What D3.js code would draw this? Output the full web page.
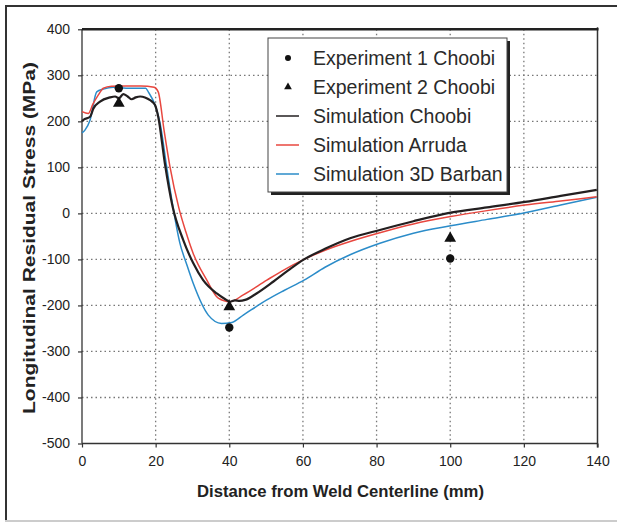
<!DOCTYPE html>
<html><head><meta charset="utf-8">
<script src="https://cdn.jsdelivr.net/npm/d3@7"></script>
<style>
html,body{margin:0;padding:0;background:#fff;}
svg{display:block;font-family:"Liberation Sans",Arial,sans-serif;}
</style></head>
<body><svg id="c" width="617" height="524"></svg>
<script>
const xTicks = [0,20,40,60,80,100,120,140];
const yTicks = [400,300,200,100,0,-100,-200,-300,-400,-500];

const choobiX = [0,0.35,2.2,3.1,4.9,7.6,9.0,10,11.2,12.4,13.5,14.6,15.8,17.1,18.5,19.8,20.7,22.5,24.6,27.5,30.2,32.9,36.6,38.6,40.2,41.5,42.8,44.3,47.4,52,56,60.3,66,72.8,80.9,90,100.1,110,120.3,130,139.8];
const choobiY = [200,203,210,228,243,252,254,250,259,254,248,252,254,252,246,236,210,109,15,-58,-108,-145,-174,-185,-192,-189,-190,-188,-174,-148,-124,-100,-77,-54,-36,-17,1.5,13,25,38,51];

const arrudaX = [0,1.7,3.0,4.4,5.8,8,12,16,19.6,20.7,22.3,23.9,26.3,28.2,30.2,33.9,37,40.2,43.8,50.2,55,60.3,66,72.8,80.9,90,100.1,110,120.3,130,139.8];
const arrudaY = [221,217,238,257,272,276,277,277,274,264,180,101,12,-40,-87,-145,-184,-192,-177,-145,-122,-100,-80,-61,-42,-23,-7,6,18,27,36];

const barbanX = [0,0.8,2.2,4.0,5.8,8.5,12,17.3,18,19.8,21.2,23,24.4,26.6,28.4,30.2,34.3,37.9,40.7,43.8,50.2,55,60.3,66,72.8,80.9,90,100.1,110,120.3,130,139.8];
const barbanY = [175,181,203,264,270,274,272,272,264,236,196,101,29,-65,-110,-152,-221,-239,-237,-221,-188,-167,-145,-117,-90,-65,-43,-27,-13,1.5,18,35];

const exp1X = [10,40,100];
const exp1Y = [272,-248,-98];
const exp2X = [10,40,100];
const exp2Y = [239,-203,-54];

const legendLabels = ["Experiment 1 Choobi","Experiment 2 Choobi","Simulation Choobi","Simulation Arruda","Simulation 3D Barban"];
const colors = {choobi:"#231f20", arruda:"#e8473f", barban:"#2b8cc9"};

const svg = d3.select("#c");
const L=82, R=597.5, T=29.3, B=443.5;
const x = d3.scaleLinear().domain([0,140]).range([L,R]);
const y = d3.scaleLinear().domain([-500,400]).range([B,T]);

// outer frame
svg.append("line").attr("x1",6).attr("x2",6).attr("y1",5).attr("y2",521).attr("stroke","#333").attr("stroke-width",2);
svg.append("line").attr("x1",5).attr("x2",617).attr("y1",6).attr("y2",6).attr("stroke","#333").attr("stroke-width",2);
svg.append("line").attr("x1",5).attr("x2",617).attr("y1",521).attr("y2",521).attr("stroke","#ccc").attr("stroke-width",2);

// grid
const g = svg.append("g");
g.selectAll(".vg").data(xTicks.filter(d=>d>0&&d<140)).join("line")
 .attr("x1",d=>x(d)).attr("x2",d=>x(d)).attr("y1",T).attr("y2",B)
 .attr("stroke","#777").attr("stroke-width",1.3).attr("stroke-dasharray","1.5,3");
g.selectAll(".hg").data(yTicks.filter(d=>d<400&&d>-500)).join("line")
 .attr("x1",L).attr("x2",R).attr("y1",d=>y(d)).attr("y2",d=>y(d))
 .attr("stroke","#777").attr("stroke-width",1.3).attr("stroke-dasharray","1.5,3");

// axes
const fmt = d=>String(d);
const xAxis = d3.axisBottom(x).tickValues(xTicks).tickFormat(fmt).tickSize(4).tickPadding(9);
const yAxis = d3.axisLeft(y).tickValues(yTicks).tickFormat(fmt).tickSize(4).tickPadding(8);
const xa = svg.append("g").attr("transform",`translate(0,${B})`).call(xAxis);
const ya = svg.append("g").attr("transform",`translate(${L},0)`).call(yAxis);
[xa,ya].forEach(a=>{
  a.select(".domain").remove();
  a.selectAll("line").attr("stroke","#333").attr("stroke-width",1.2);
  a.selectAll("text").attr("font-size",14).attr("fill","#222").attr("font-family","'Liberation Sans',Arial,sans-serif");
});
// frame of plot
svg.append("line").attr("x1",L).attr("x2",L).attr("y1",T).attr("y2",B).attr("stroke","#333").attr("stroke-width",1.3);
svg.append("line").attr("x1",L).attr("x2",R).attr("y1",B).attr("y2",B).attr("stroke","#333").attr("stroke-width",1.3);
svg.append("line").attr("x1",R).attr("x2",R).attr("y1",T-2).attr("y2",B+4).attr("stroke","#333").attr("stroke-width",1.5);
svg.append("line").attr("x1",L).attr("x2",R+1).attr("y1",T).attr("y2",T).attr("stroke","#222").attr("stroke-width",2.5);

// lines
const line = (xs,ys)=>d3.line().curve(d3.curveMonotoneX)(xs.map((v,i)=>[x(v),y(ys[i])]));
svg.append("path").attr("d",line(barbanX,barbanY)).attr("fill","none").attr("stroke",colors.barban).attr("stroke-width",1.5);
svg.append("path").attr("d",line(arrudaX,arrudaY)).attr("fill","none").attr("stroke",colors.arruda).attr("stroke-width",1.5);
svg.append("path").attr("d",line(choobiX,choobiY)).attr("fill","none").attr("stroke",colors.choobi).attr("stroke-width",2.2);

// markers
svg.selectAll(".e1").data(exp1X).join("circle")
 .attr("cx",d=>x(d)).attr("cy",(d,i)=>y(exp1Y[i])).attr("r",4.2).attr("fill","#111");
const tri = d3.symbol().type(d3.symbolTriangle).size(60);
svg.selectAll(".e2").data(exp2X).join("path")
 .attr("d",tri).attr("transform",(d,i)=>`translate(${x(d)},${y(exp2Y[i])})`).attr("fill","#111");

// legend
const lg = svg.append("g");
lg.append("rect").attr("x",271).attr("y",41).attr("width",239).attr("height",154).attr("fill","#222");
lg.append("rect").attr("x",268).attr("y",38).attr("width",239).attr("height",154).attr("fill","#fff").attr("stroke","#444").attr("stroke-width",1);
const ly0 = 58, ldy = 29;
legendLabels.forEach((t,i)=>{
  const yy = ly0 + i*ldy;
  lg.append("text").attr("x",313).attr("y",yy).attr("dy","0.35em").attr("font-size",19.5).attr("fill","#2a2a2a").text(t);
});
lg.append("circle").attr("cx",288).attr("cy",ly0).attr("r",3).attr("fill","#111");
lg.append("path").attr("d",d3.symbol().type(d3.symbolTriangle).size(26)).attr("transform",`translate(288,${ly0+ldy})`).attr("fill","#111");
[["choobi",2],["arruda",3],["barban",4]].forEach(([k,i])=>{
  lg.append("line").attr("x1",276).attr("x2",299).attr("y1",ly0+i*ldy).attr("y2",ly0+i*ldy).attr("stroke",colors[k]).attr("stroke-width",1.5);
});

// axis titles
svg.append("text").attr("x",340.5).attr("y",497).attr("text-anchor","middle").attr("font-size",16.5).attr("font-weight","bold").attr("fill","#222")
 .attr("textLength",287).attr("lengthAdjust","spacingAndGlyphs").text("Distance from Weld Centerline (mm)");
svg.append("text").attr("transform",`translate(35,238) rotate(-90)`).attr("text-anchor","middle").attr("font-size",16.5).attr("font-weight","bold").attr("fill","#222")
 .attr("textLength",352).attr("lengthAdjust","spacingAndGlyphs").text("Longitudinal Residual Stress (MPa)");
</script></body></html>
